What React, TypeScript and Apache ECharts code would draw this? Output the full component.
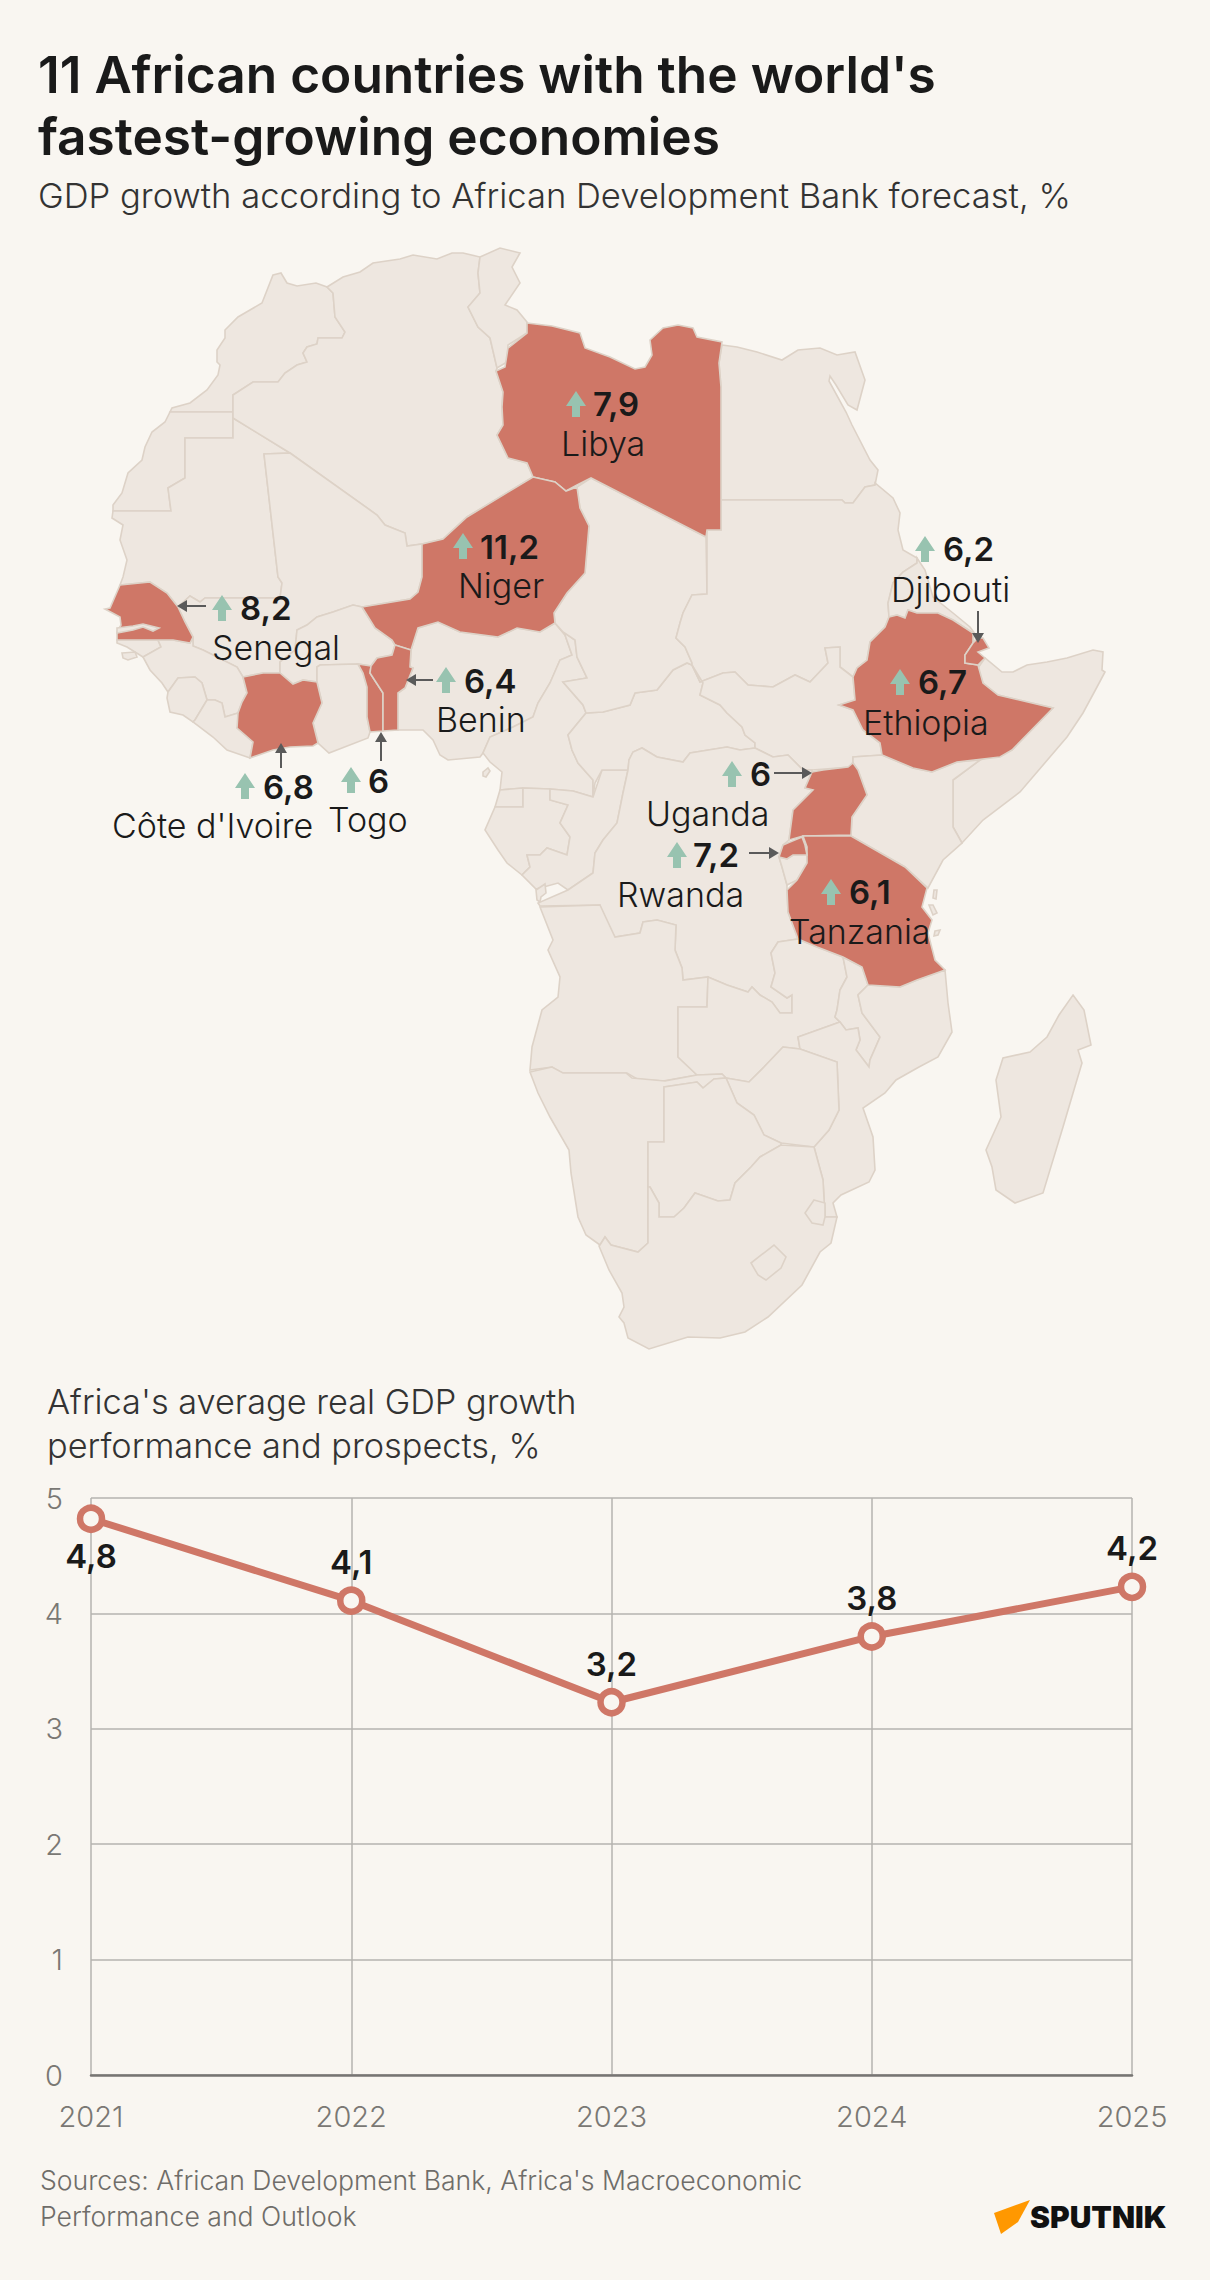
import React, { useEffect, useRef } from "react";
import * as echarts from "echarts";

const years = ["2021", "2022", "2023", "2024", "2025"];
const avgGrowth = [4.82, 4.11, 3.23, 3.8, 4.23];
const yTicks = [0, 1, 2, 3, 4, 5];

const highlighted = ["Libya", "Niger", "Senegal", "Benin", "Togo", "Côte d'Ivoire", "Djibouti", "Ethiopia", "Uganda", "Rwanda", "Tanzania"];
const growth = [7.9, 11.2, 8.2, 6.4, 6, 6.8, 6.2, 6.7, 6, 7.2, 6.1];

// Map outline asset: [name, ring]
const countryShapes: [string, string][] = [
  ["Morocco", "273,275 281,273 287,283 297,286 316,283 327,287 333,293 335,317 345,332 342,338 318,338 317,344 307,347 303,353 307,362 297,365 285,373 278,382 253,382 233,395 233,412 170,412 172,408 190,403 207,390 218,375 220,365 217,362 217,350 225,338 225,330 238,317 262,303"],
  ["Western Sahara", "170,412 233,412 233,438 185,438 185,478 168,488 171,511 113,511 113,505 122,493 128,473 142,460 145,447 152,432 165,422"],
  ["Mauritania", "113,511 171,511 168,488 185,478 185,438 233,438 233,418 290,453 264,454 278,577 282,583 280,598 205,598 200,602 190,596 178,607 167,593 150,582 120,585 123,577 127,560 120,540 123,525 112,518"],
  ["Algeria", "233,395 253,382 278,382 285,373 297,365 307,362 303,353 307,347 317,344 318,338 342,338 345,332 335,317 333,293 327,287 343,277 360,272 373,263 400,259 413,255 437,259 452,253 463,253 480,257 478,273 480,293 468,307 478,327 490,338 497,368 496,371 503,392 502,407 503,425 497,435 508,458 527,463 533,477 467,517 443,539 422,544 407,546 405,533 385,525 377,515 290,453 233,418"],
  ["Tunisia", "480,257 500,248 520,253 512,267 520,283 505,305 517,310 527,322 527,333 508,345 507,362 497,368 490,338 478,327 468,307 480,293 478,273"],
  ["Mali", "290,453 377,515 385,525 405,533 407,546 422,544 422,577 418,592 410,599 362,607 353,605 333,612 317,617 307,625 297,630 295,650 280,662 280,673 263,673 243,677 237,667 203,650 193,646 193,637 185,622 178,607 190,596 200,602 205,598 280,598 282,583 278,577 264,454"],
  ["Burkina Faso", "280,662 295,650 297,630 307,625 317,617 333,612 353,605 362,607 375,628 392,640 395,645 392,655 377,658 371,666 358,664 320,665 317,667 317,682 303,680 293,684 280,673"],
  ["Guinea-Bissau", "117,640 158,640 161,647 143,657 127,647 117,643"],
  ["Bissagos", "122,653 135,652 137,657 128,660 123,658"],
  ["Guinea", "158,640 173,640 190,643 193,637 193,646 203,650 237,667 243,677 247,693 242,702 238,713 225,717 222,703 215,700 207,700 202,683 195,677 178,678 168,692 162,683 150,670 143,657 161,647"],
  ["Sierra Leone", "168,692 178,678 195,677 202,683 207,700 195,720 193,722 183,715 170,712 167,698"],
  ["Liberia", "207,700 215,700 222,703 225,717 238,713 238,727 237,728 253,742 250,758 227,750 213,737 193,722 195,720"],
  ["Ghana", "320,665 358,664 363,673 367,687 367,717 370,732 368,738 329,753 318,743 313,723 322,703 317,682 317,667"],
  ["Nigeria", "398,693 405,688 413,668 410,667 411,650 418,628 438,622 460,632 498,637 517,628 540,632 555,623 565,635 572,655 560,660 550,683 538,703 533,717 513,727 490,737 483,753 480,757 448,760 440,755 433,740 423,730 398,730"],
  ["Cameroon", "555,623 563,632 575,640 577,657 587,678 563,682 583,705 586,713 568,735 572,750 578,763 593,780 593,797 573,791 550,789 523,788 500,790 502,772 490,762 483,753 490,737 513,727 533,717 538,703 550,683 560,660 572,655 565,635"],
  ["Bioko", "483,772 488,768 490,771 486,777 483,776"],
  ["Equatorial Guinea", "500,790 523,788 523,807 495,807"],
  ["Gabon", "495,807 523,807 523,788 550,789 550,800 568,805 560,823 570,837 567,855 547,848 540,855 527,855 530,867 522,875 507,863 498,850 485,830"],
  ["Congo", "550,789 573,791 593,797 602,770 628,770 623,793 617,823 603,840 595,853 593,873 568,890 558,883 540,888 536,889 522,875 530,867 527,855 540,855 547,848 567,855 570,837 560,823 568,805 550,800"],
  ["Cabinda", "536,890 545,884 546,893 541,897 540,902 537,900"],
  ["Central African Republic", "586,713 603,712 630,705 635,693 657,690 673,670 687,663 692,665 703,683 700,695 720,705 727,713 742,727 745,735 755,743 755,748 740,750 727,747 690,753 683,762 657,757 642,748 633,752 629,760 628,770 602,770 595,783 593,797 593,780 578,763 572,750 568,735"],
  ["Chad", "577,487 591,478 706,537 707,594 692,595 683,613 680,623 676,638 685,647 692,663 692,665 687,663 673,670 657,690 635,693 630,705 603,712 586,713 583,705 563,682 587,678 577,657 575,640 563,632 555,623 554,613 567,593 585,573 589,526 580,508"],
  ["Egypt", "722,345 737,347 757,352 782,360 798,350 820,348 837,355 855,352 865,380 857,410 848,405 836,385 830,376 829,381 846,412 852,425 870,460 878,470 875,485 865,487 853,503 845,503 842,500 721,500 721,387 719,363"],
  ["Sudan", "721,500 842,500 845,503 853,503 865,487 875,485 875,483 893,498 900,513 898,530 903,550 917,558 917,563 903,572 893,583 888,603 889,617 885,627 870,642 867,660 857,668 853,677 840,667 840,647 825,648 828,663 810,682 795,675 773,687 748,685 735,672 723,673 700,682 692,665 692,663 685,647 676,638 680,623 683,613 692,595 707,594 707,530 721,530"],
  ["South Sudan", "692,665 700,682 723,673 735,672 748,685 773,687 795,675 810,682 828,663 825,648 840,647 840,667 853,677 855,700 839,705 853,710 863,730 880,743 882,755 853,757 853,762 850,767 812,770 803,770 788,755 773,757 755,748 755,743 745,735 742,727 727,713 720,705 700,695 703,683"],
  ["Eritrea", "917,558 925,570 933,597 953,613 970,627 978,638 973,643 973,633 953,620 938,613 917,613 908,610 905,618 897,615 889,617 888,603 893,583 903,572 917,563"],
  ["Somalia", "978,668 985,658 1002,672 1013,672 1027,665 1047,662 1067,658 1093,650 1103,652 1102,670 1105,672 1097,687 1083,713 1067,737 1020,792 983,820 962,843 953,827 953,780 980,760 1012,750 1053,708 998,695 983,683"],
  ["Kenya", "853,763 853,757 882,755 913,768 932,772 957,762 980,760 953,780 953,827 962,843 943,860 928,888 905,867 851,836 852,817 867,795 858,770"],
  ["DR Congo", "628,770 629,760 633,752 642,748 657,757 683,762 690,753 727,747 740,750 755,748 773,757 788,755 803,770 812,770 812,772 805,788 813,790 793,810 789,840 783,845 779,857 782,867 787,885 787,890 788,912 798,939 778,942 771,953 775,973 771,987 787,998 792,995 792,1013 780,1013 772,1002 760,995 752,987 748,992 727,985 708,977 683,980 682,968 675,950 676,925 657,920 643,922 640,933 615,937 603,920 600,905 540,906 538,903 568,890 593,873 595,853 603,840 617,823 623,793"],
  ["Burundi", "779,857 787,859 793,855 807,855 807,863 797,880 787,885 782,867"],
  ["Angola", "540,907 600,905 615,937 640,933 643,922 657,920 676,925 675,950 682,968 683,980 708,977 707,1007 678,1007 678,1057 697,1075 663,1081 637,1079 627,1073 562,1073 552,1067 530,1070 532,1047 542,1010 558,997 560,977 548,950 553,940"],
  ["Zambia", "708,977 727,985 748,992 752,987 760,995 772,1002 780,1013 792,1013 792,995 787,998 771,987 775,973 771,953 778,942 798,939 817,947 843,957 847,977 840,990 837,1010 835,1017 840,1022 798,1037 800,1049 783,1047 764,1067 749,1082 726,1078 722,1074 697,1075 678,1057 678,1007 707,1007"],
  ["Malawi", "843,957 862,967 868,985 858,995 862,1013 880,1037 870,1060 869,1067 856,1050 860,1040 858,1028 846,1030 840,1022 835,1017 837,1010 840,990 847,977"],
  ["Mozambique", "868,985 900,987 917,980 945,970 948,1003 952,1032 938,1057 919,1067 896,1080 885,1093 863,1108 873,1137 875,1170 869,1182 841,1195 833,1203 837,1217 825,1217 823,1180 814,1147 829,1130 839,1110 837,1062 800,1049 798,1037 840,1022 846,1030 858,1028 860,1040 856,1050 869,1067 870,1060 880,1037 862,1013 858,995"],
  ["Zimbabwe", "800,1049 837,1062 839,1110 829,1130 814,1147 781,1143 764,1135 754,1115 737,1103 726,1078 749,1082 764,1067 783,1047"],
  ["Namibia", "530,1072 552,1067 563,1073 626,1073 632,1078 665,1081 697,1075 722,1074 726,1078 714,1079 703,1088 697,1082 664,1087 664,1142 648,1142 648,1243 638,1252 611,1245 605,1237 600,1245 586,1235 578,1217 571,1173 569,1150 550,1117 538,1093"],
  ["Botswana", "664,1087 697,1082 703,1088 714,1079 726,1078 737,1103 754,1115 764,1135 781,1143 781,1145 760,1157 751,1167 735,1183 730,1200 718,1201 695,1193 684,1208 674,1217 659,1217 659,1203 650,1187 648,1187 648,1142 664,1142"],
  ["South Africa", "599,1246 600,1245 605,1237 611,1245 638,1252 648,1243 648,1187 650,1187 659,1203 659,1217 674,1217 684,1208 695,1193 718,1201 730,1200 735,1183 751,1167 760,1157 781,1145 814,1147 823,1180 825,1217 837,1217 831,1243 820,1252 802,1285 768,1317 745,1332 720,1338 688,1337 649,1349 628,1338 624,1323 619,1317 624,1307 622,1293 609,1270"],
  ["Eswatini", "814,1200 825,1203 825,1217 823,1225 812,1223 805,1213"],
  ["Lesotho", "751,1263 774,1245 786,1257 781,1268 766,1280 758,1275"],
  ["Madagascar", "1073,995 1084,1010 1091,1045 1078,1050 1082,1063 1076,1083 1063,1127 1043,1193 1015,1203 996,1190 992,1167 986,1150 1001,1117 996,1080 1003,1058 1030,1052 1047,1037 1059,1015"],
  ["Pemba", "934,890 937,890 936,899 933,898"],
  ["Zanzibar", "929,905 933,905 937,913 933,915"],
  ["Mafia", "935,931 940,930 938,935 934,936"],
  ["Libya", "527,323 552,326 580,333 585,348 610,357 635,369 645,367 652,355 650,340 663,328 678,325 693,328 697,337 722,342 719,363 721,387 721,530 707,530 706,537 591,478 577,485 566,491 555,482 533,477 527,463 508,458 497,435 503,425 502,407 503,392 496,371 505,367 508,348 527,333"],
  ["Niger", "422,544 443,539 467,517 533,477 555,482 566,491 577,487 580,508 589,526 585,573 567,593 554,613 555,623 540,632 517,628 498,637 460,632 438,622 418,628 411,650 395,645 392,640 375,628 362,607 410,599 418,592 422,577"],
  ["Senegal", "120,585 150,582 167,593 178,607 185,622 193,637 190,643 173,640 158,640 117,640 117,632 121,625 120,617 105,609 110,608"],
  ["Gambia", "117,628 133,626 143,624 159,628 153,631 143,627 133,630 117,633"],
  ["Côte d'Ivoire", "243,677 263,673 280,673 293,684 303,680 317,682 322,703 313,723 318,743 313,746 290,747 273,750 250,758 253,742 237,728 238,713 242,702 247,693"],
  ["Togo", "358,664 371,666 370,673 383,693 383,731 370,732 367,717 367,687 363,673"],
  ["Benin", "395,645 411,650 410,667 413,668 405,688 398,693 398,730 383,731 383,693 370,673 371,666 377,658 392,655"],
  ["Ethiopia", "889,617 897,615 905,618 908,610 917,613 938,613 953,620 973,633 973,643 965,655 965,663 978,665 983,683 998,695 1053,708 1012,750 1000,757 957,762 932,772 913,768 882,755 880,743 863,730 853,710 839,705 855,700 853,677 857,668 867,660 870,642 885,627"],
  ["Djibouti", "978,638 983,638 989,648 978,652 985,658 978,665 965,663 965,655 973,643"],
  ["Uganda", "812,772 823,770 848,767 853,763 858,770 867,795 852,817 851,835 803,836 789,840 793,810 813,790 805,788"],
  ["Tanzania", "803,836 851,836 905,867 927,888 922,907 932,920 928,933 935,960 945,970 917,980 900,987 868,985 862,967 843,957 817,947 798,939 788,912 787,890 797,880 807,863 807,847"],
  ["Rwanda", "802,837 805,845 807,855 793,855 787,859 779,857 783,845 790,842"],
];

// Where each country's annotation sits: arrow centre / top, value left / baseline, name left / baseline, optional leader
const labelLayout: Record<string, { a: [number, number]; v: [number, number]; n: [number, number]; l?: [number, number, number, number] }> = {
  Libya: { a: [576, 391], v: [593, 415], n: [561, 455] },
  Niger: { a: [463, 533], v: [480, 558], n: [458, 597] },
  Senegal: { a: [222, 595], v: [240, 619], n: [212, 659], l: [206, 606, 177, 606] },
  Benin: { a: [446, 667], v: [464, 692], n: [436, 731], l: [433, 680, 406, 680] },
  Togo: { a: [351, 767], v: [368, 792], n: [328, 831], l: [381, 761, 381, 732] },
  "Côte d'Ivoire": { a: [245, 773], v: [263, 798], n: [112, 837], l: [281, 768, 281, 743] },
  Djibouti: { a: [925, 536], v: [943, 560], n: [891, 601], l: [978, 611, 978, 643] },
  Ethiopia: { a: [900, 669], v: [918, 693], n: [863, 734] },
  Uganda: { a: [732, 761], v: [750, 785], n: [646, 825], l: [774, 773, 812, 773] },
  Rwanda: { a: [677, 842], v: [693, 866], n: [617, 906], l: [749, 853, 779, 853] },
  Tanzania: { a: [831, 879], v: [849, 903], n: [789, 943] },
};

const BG = "#F9F6F1";
const LAND = "#EEE7E0";
const EDGE = "#DDD2C7";
const RED = "#CF7767";
const GREEN = "#98C3B0";
const INK = "#1A1A1A";
const SUB = "#333333";
const GREY = "#7A7874";
const LEADER = "#5A5A5A";
const FONT = "Inter, Roboto, sans-serif";

const ring = (s: string) => {
  const r = s.trim().split(/\s+/).map((p) => p.split(",").map(Number));
  r.push(r[0]);
  return r;
};

const comma = (v: number, d?: number) => (d === undefined ? String(v) : v.toFixed(d)).replace(".", ",");

function annotation(name: string, value: number): any[] {
  const p = labelLayout[name];
  const [ax, ay] = p.a;
  const els: any[] = [
    {
      type: "polygon",
      silent: true,
      z: 20,
      shape: {
        points: [
          [ax, ay],
          [ax + 10, ay + 15],
          [ax + 4, ay + 15],
          [ax + 4, ay + 26],
          [ax - 4, ay + 26],
          [ax - 4, ay + 15],
          [ax - 10, ay + 15],
        ],
      },
      style: { fill: GREEN },
    },
    {
      type: "text",
      silent: true,
      z: 20,
      x: p.v[0],
      y: p.v[1] - 11.5,
      style: { text: comma(value), font: `600 33px ${FONT}`, fill: INK, verticalAlign: "middle", align: "left" },
    },
    {
      type: "text",
      silent: true,
      z: 20,
      x: p.n[0],
      y: p.n[1] - 12,
      style: { text: name, font: `300 34px ${FONT}`, fill: INK, verticalAlign: "middle", align: "left" },
    },
  ];
  if (p.l) {
    const [x1, y1, x2, y2] = p.l;
    const len = Math.hypot(x2 - x1, y2 - y1);
    const ux = (x2 - x1) / len;
    const uy = (y2 - y1) / len;
    els.push(
      { type: "line", silent: true, z: 20, shape: { x1, y1, x2: x2 - ux * 8, y2: y2 - uy * 8 }, style: { stroke: LEADER, lineWidth: 2 } },
      {
        type: "polygon",
        silent: true,
        z: 20,
        shape: {
          points: [
            [x2, y2],
            [x2 - ux * 10 - uy * 6, y2 - uy * 10 + ux * 6],
            [x2 - ux * 10 + uy * 6, y2 - uy * 10 - ux * 6],
          ],
        },
        style: { fill: LEADER },
      }
    );
  }
  return els;
}

export default function App() {
  const ref = useRef<HTMLDivElement>(null);
  useEffect(() => {
    document.body.style.margin = "0";
    document.body.style.background = BG;
    const geo = {
      type: "FeatureCollection",
      features: countryShapes.map(([name, s]) => ({
        type: "Feature",
        properties: { name },
        geometry: { type: "Polygon", coordinates: [ring(s)] },
      })),
    };
    echarts.registerMap("africa", geo as any);
    const chart = echarts.init(ref.current!, undefined, { renderer: "svg" });
    chart.setOption({
      animation: false,
      backgroundColor: BG,
      title: [
        {
          text: "11 African countries with the world's\nfastest-growing economies",
          left: 38,
          top: 43,
          padding: 0,
          textStyle: { fontFamily: FONT, fontSize: 51.4, fontWeight: 600, lineHeight: 62, color: INK },
        },
        {
          text: "GDP growth according to African Development Bank forecast, %",
          left: 38,
          top: 175,
          padding: 0,
          textStyle: { fontFamily: FONT, fontSize: 34.6, fontWeight: 300, lineHeight: 40, color: SUB },
        },
        {
          text: "Africa's average real GDP growth\nperformance and prospects, %",
          left: 47,
          top: 1379,
          padding: 0,
          textStyle: { fontFamily: FONT, fontSize: 34.3, fontWeight: 300, lineHeight: 44, color: SUB },
        },
        {
          text: "Sources: African Development Bank, Africa's Macroeconomic\nPerformance and Outlook",
          left: 40,
          top: 2162,
          padding: 0,
          textStyle: { fontFamily: FONT, fontSize: 26.6, fontWeight: 300, lineHeight: 36, color: "#6F6D69" },
        },
      ],
      grid: { left: 91, right: 78, top: 1498, bottom: 205 },
      xAxis: {
        type: "category",
        data: years,
        boundaryGap: false,
        axisTick: { show: false },
        axisLine: { lineStyle: { color: "#777573", width: 2.5 } },
        axisLabel: { color: GREY, fontFamily: FONT, fontSize: 29, fontWeight: 300, margin: 27 },
        splitLine: { show: true, lineStyle: { color: "#B5B3AF", width: 1.5 } },
      },
      yAxis: {
        type: "value",
        min: yTicks[0],
        max: yTicks[yTicks.length - 1],
        interval: 1,
        axisLine: { show: false },
        axisTick: { show: false },
        axisLabel: { color: GREY, fontFamily: FONT, fontSize: 29, fontWeight: 300, margin: 28 },
        splitLine: { lineStyle: { color: "#B5B3AF", width: 1.5 } },
      },
      series: [
        {
          type: "map",
          map: "africa",
          projection: { project: (p: number[]) => p, unproject: (p: number[]) => p },
          boundingCoords: [
            [0, 0],
            [1210, 1400],
          ],
          left: 0,
          top: 0,
          width: 1210,
          height: 1400,
          roam: false,
          silent: true,
          selectedMode: false,
          showLegendSymbol: false,
          label: { show: false },
          emphasis: { disabled: true },
          itemStyle: { areaColor: LAND, borderColor: EDGE, borderWidth: 1.6 },
          data: highlighted.map((name, i) => ({ name, value: growth[i], itemStyle: { areaColor: RED } })),
        },
        {
          type: "line",
          data: avgGrowth.map((v, i) => ({
            value: v,
            label: { position: i === 0 ? "bottom" : "top", distance: i === 0 ? 6 : 8 },
          })),
          clip: false,
          symbol: "circle",
          symbolSize: 22,
          showSymbol: true,
          lineStyle: { color: RED, width: 7 },
          itemStyle: { color: BG, borderColor: RED, borderWidth: 6.5 },
          label: {
            show: true,
            color: INK,
            fontFamily: FONT,
            fontSize: 33,
            fontWeight: 600,
            formatter: (p: any) => comma(p.value, 1),
          },
          z: 5,
        },
      ],
      graphic: [
        ...highlighted.flatMap((n, i) => annotation(n, growth[i])),
        {
          type: "polygon",
          silent: true,
          z: 20,
          shape: { points: [[1030, 2200], [1018, 2222], [1001, 2234], [994, 2213]] },
          style: { fill: "#FF9800" },
        },
        {
          type: "text",
          silent: true,
          z: 20,
          x: 1030,
          y: 2217,
          style: { text: "SPUTNIK", font: `900 30px ${FONT}`, fill: "#111111", verticalAlign: "middle", align: "left" },
        },
      ],
    });
    return () => chart.dispose();
  }, []);
  return <div ref={ref} style={{ position: "absolute", left: 0, top: 0, width: 1210, height: 2280 }} />;
}
